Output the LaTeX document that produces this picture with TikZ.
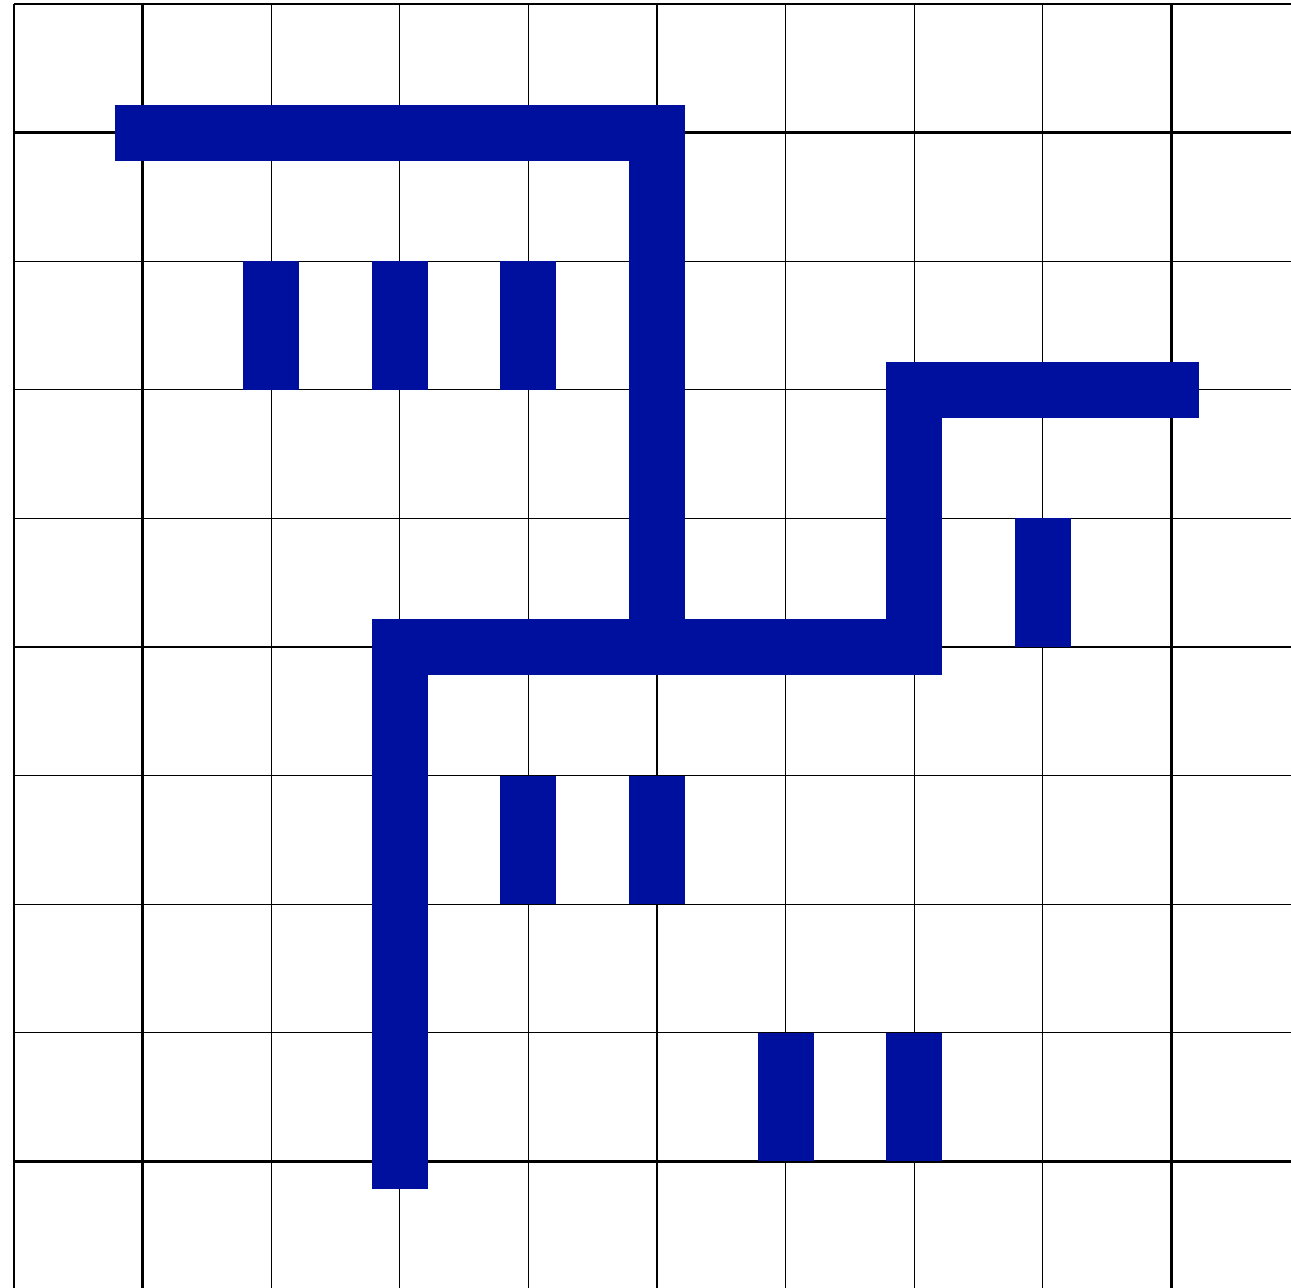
\documentclass[tikz,border=0pt]{standalone}
\begin{document}
\begin{tikzpicture}[x=1cm,y=-1cm,
  gridthin/.style={draw=black,line width=0.3pt},
  gridthick/.style={draw=black,line width=0.65pt},
  wire/.style={draw={rgb,255:red,0;green,16;blue,158},line width=0.4355cm,line cap=rect,line join=miter},
  bar/.style={draw={rgb,255:red,0;green,16;blue,158},line width=0.4355cm,line cap=butt}]
\useasboundingbox (-0.109,-0.031) rectangle (9.930,9.984);
\clip (-0.109,-0.031) rectangle (9.930,9.984);
\draw[gridthin] (0,0) grid (10,10);
\foreach \c in {1,9} {
  \draw[gridthick] (\c,0) -- (\c,10);
  \draw[gridthick] (0,\c) -- (10,\c);
}
% wires
\draw[wire] (1,1) -- (5,1) -- (5,5);
\draw[wire] (3,9) -- (3,5) -- (7,5) -- (7,3) -- (9,3);
% bars
\foreach \x/\y in {2/2,3/2,4/2,8/4,4/6,5/6,6/8,7/8} {
  \draw[bar] (\x,\y) -- (\x,\y+1);
}
\end{tikzpicture}
\end{document}
